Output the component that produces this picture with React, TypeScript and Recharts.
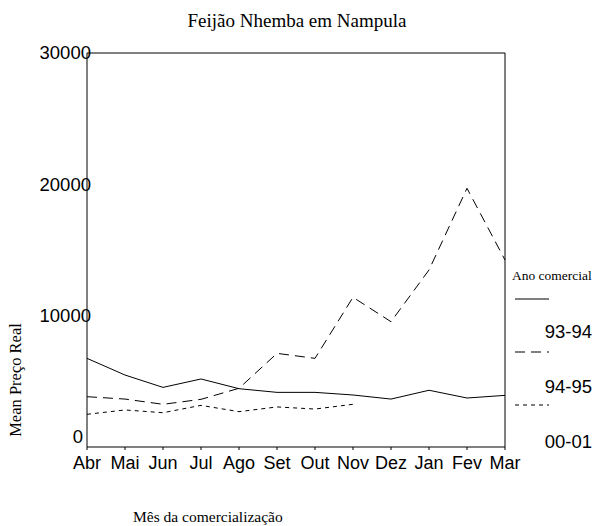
import React from 'react'
import { LineChart, Line, XAxis, YAxis, ReferenceLine } from 'recharts'

const months = ['Abr', 'Mai', 'Jun', 'Jul', 'Ago', 'Set', 'Out', 'Nov', 'Dez', 'Jan', 'Fev', 'Mar']
const ano9394 = [6750, 5480, 4540, 5180, 4440, 4160, 4160, 3960, 3650, 4320, 3730, 3930]
const ano9495 = [3830, 3650, 3250, 3630, 4470, 7130, 6750, 11400, 9540, 13480, 19700, 14240]
const ano0001 = [2490, 2820, 2610, 3170, 2690, 3050, 2890, 3250, null, null, null, null]
const yTicks = [0, 10000, 20000, 30000]

const series = [
  { key: 'a9394', name: '93-94', dash: undefined },
  { key: 'a9495', name: '94-95', dash: '10 6' },
  { key: 'a0001', name: '00-01', dash: '4 4' },
]

const chartData = months.map((m, i) => ({
  month: m,
  a9394: ano9394[i],
  a9495: ano9495[i],
  a0001: ano0001[i],
}))

const SANS = '"Liberation Sans", Arial, sans-serif'
const SERIF = '"Liberation Serif", "Times New Roman", serif'

// o zero fica um pouco acima e à esquerda do canto
const YTick = ({ x, y, payload }: any) => (
  <text
    x={payload.value === 0 ? x - 4 : x + 4}
    y={payload.value === 0 ? y - 10 : y}
    dy="0.35em"
    textAnchor="end"
    fontSize={18.5}
    fontFamily={SANS}
    fill="#000"
  >
    {payload.value}
  </text>
)

const XTick = ({ x, y, payload }: any) => (
  <text x={x} y={y} dy="0.71em" textAnchor="middle" fontSize={18} fontFamily={SANS} fill="#000">
    {payload.value}
  </text>
)

// texto e legenda por cima do gráfico
const Overlay = () => (
  <svg width={595} height={526} style={{ position: 'absolute', left: 0, top: 0, pointerEvents: 'none' }}>
    <text x={297} y={20} dy="0.35em" textAnchor="middle" fontSize={19} fontFamily={SERIF}>
      Feijão Nhemba em Nampula
    </text>
    <text
      x={15}
      y={380}
      dy="0.35em"
      textAnchor="middle"
      fontSize={16.5}
      fontFamily={SERIF}
      transform="rotate(-90 15 380)"
    >
      Mean Preço Real
    </text>
    <text x={133} y={517} dy="0.35em" fontSize={15.5} fontFamily={SERIF}>
      Mês da comercialização
    </text>
    <text x={512} y={275} dy="0.35em" fontSize={13.5} fontFamily={SERIF}>
      Ano comercial
    </text>
    {series.map((s, i) => (
      <g key={s.key}>
        <line
          x1={515}
          x2={549}
          y1={299 + i * 53}
          y2={299 + i * 53}
          stroke="#000"
          strokeWidth={1}
          strokeDasharray={s.dash}
        />
        <text x={592} y={332 + i * 55} dy="0.35em" textAnchor="end" fontSize={18.5} fontFamily={SANS}>
          {s.name}
        </text>
      </g>
    ))}
  </svg>
)

export default function App() {
  return (
    <div style={{ position: 'absolute', left: 0, top: 0, width: 595, height: 526, background: '#fff' }}>
      <LineChart width={595} height={526} data={chartData} margin={{ top: 53, right: 90, bottom: 49, left: 27 }}>
        <XAxis
          dataKey="month"
          interval={0}
          height={30}
          tickSize={3}
          tickMargin={6}
          tick={<XTick />}
          axisLine={{ stroke: '#000' }}
          tickLine={{ stroke: '#000' }}
          padding={{ left: 0, right: 0 }}
        />
        <YAxis
          width={60}
          domain={[0, 30000]}
          ticks={yTicks}
          tickSize={0}
          tickMargin={0}
          tickLine={false}
          tick={<YTick />}
          axisLine={{ stroke: '#000' }}
        />
        <ReferenceLine y={30000} stroke="#000" />
        <ReferenceLine x="Mar" stroke="#000" />
        {series.map((s) => (
          <Line
            key={s.key}
            type="linear"
            dataKey={s.key}
            name={s.name}
            stroke="#000"
            strokeWidth={1}
            strokeDasharray={s.dash}
            dot={false}
            activeDot={false}
            isAnimationActive={false}
          />
        ))}
      </LineChart>
      <Overlay />
    </div>
  )
}
